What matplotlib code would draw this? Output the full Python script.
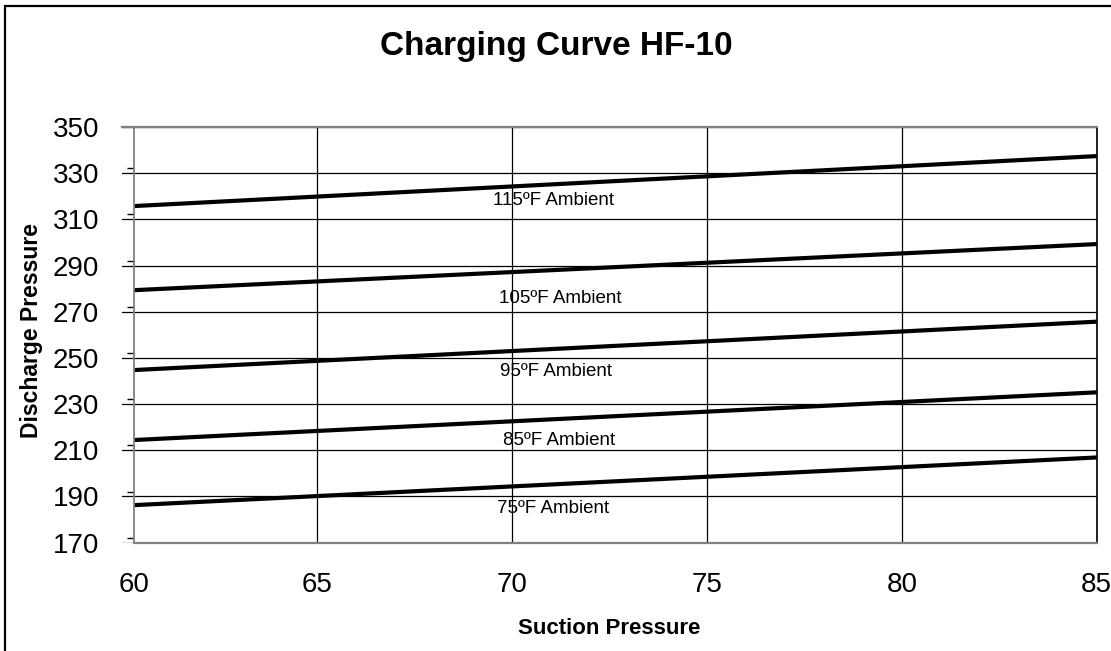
import matplotlib
matplotlib.use('Agg')
import matplotlib.pyplot as plt
from matplotlib.patches import Rectangle

plt.rcParams['font.family'] = ['Liberation Sans', 'DejaVu Sans']

# Data (discharge pressure at suction 60 and 85)
suction = [60, 85]
ambient_labels = ['75ºF Ambient', '85ºF Ambient', '95ºF Ambient', '105ºF Ambient', '115ºF Ambient']
discharge = [
    [186.0, 206.9],
    [214.2, 235.1],
    [244.5, 265.7],
    [279.1, 299.3],
    [315.5, 337.4],
]
label_x = [71.06, 71.2, 71.13, 71.23, 71.07]
label_y = [184.9, 214.2, 244.0, 275.8, 318.1]

x_ticks = [65, 70, 75, 80, 85]
y_ticks = list(range(170, 351, 20))
axis_cross = 60.3  # excel draws the value axis slightly right of 60

fig = plt.figure(figsize=(11.11, 6.51), dpi=100)
ax = fig.add_axes([0.1101, 0.1664, 0.877, 0.6385])

clip = Rectangle((axis_cross, 170), 85 - axis_cross, 180, transform=ax.transData)
for vals in discharge:
    ln, = ax.plot(suction, vals, color='black', lw=3, solid_capstyle='butt')
    ln.set_clip_path(clip)

for txt, lx, ly in zip(ambient_labels, label_x, label_y):
    ax.text(lx, ly, txt, ha='center', va='center', fontsize=13.5)

ax.set_xlim(60, 85)
ax.set_ylim(170, 350)

ax.set_xticks([axis_cross] + x_ticks)
ax.set_xticklabels(['60'] + [str(v) for v in x_ticks])
ax.set_yticks(y_ticks)
ax.set_yticks([v + 2.16 for v in y_ticks[:-1]], minor=True)
ax.tick_params(axis='x', length=0, pad=21, labelsize=20)
ax.tick_params(axis='y', which='major', length=0, pad=25, labelsize=20)
ax.tick_params(axis='y', which='minor', length=5, width=1, color='black', direction='out')

ax.grid(True, color='black', lw=0.9)
ax.xaxis.get_gridlines()[0].set_visible(False)
ax.yaxis.get_gridlines()[0].set_visible(False)
ax.yaxis.get_gridlines()[-1].set_visible(False)

ax.spines['left'].set_position(('data', axis_cross))
ax.spines['left'].set_color('#808080')
ax.spines['left'].set_linewidth(1.3)
ax.spines['bottom'].set_bounds(axis_cross, 85)
ax.spines['bottom'].set_color('#808080')
ax.spines['bottom'].set_linewidth(1.6)
ax.spines['top'].set_color('#808080')
ax.spines['top'].set_linewidth(1.6)
ax.spines['right'].set_color('black')
ax.spines['right'].set_linewidth(1.2)

fig.text(0.501, 0.9155, 'Charging Curve HF-10', ha='center', va='baseline',
         fontsize=24, fontweight='bold')
fig.text(0.548, 0.0256, 'Suction Pressure', ha='center', va='baseline',
         fontsize=16, fontweight='bold')
fig.text(0.028, 0.492, 'Discharge Pressure', ha='center', va='center',
         rotation=90, fontsize=16.5, fontweight='bold')

# outer chart border (only left and top edges are visible)
fig.add_artist(Rectangle((0.0045, -0.5), 2, 1.4908, transform=fig.transFigure,
                         fill=False, edgecolor='black', lw=1.6))

fig.savefig('out.png', dpi=100)
